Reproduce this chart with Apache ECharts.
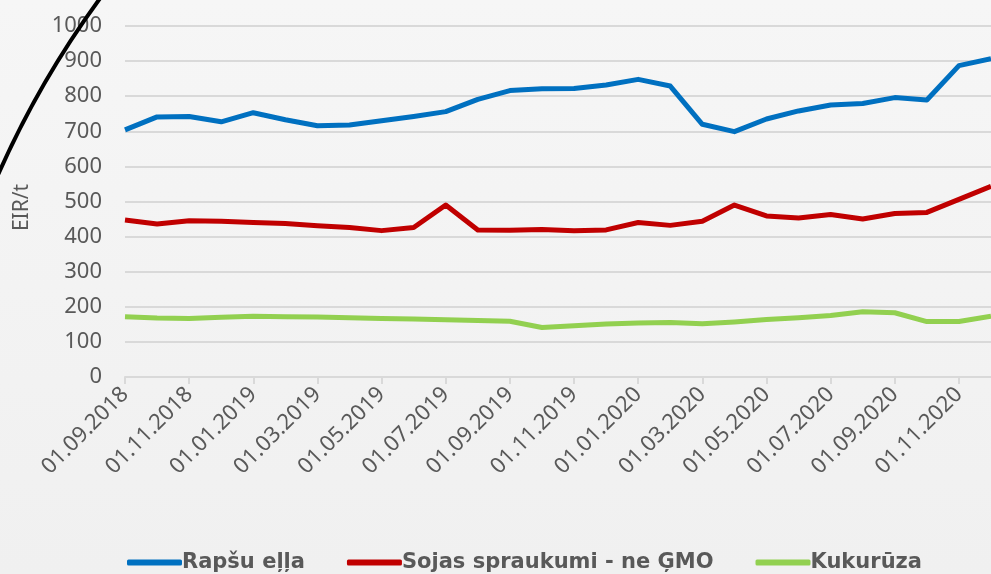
<!DOCTYPE html>
<html>
<head>
<meta charset="utf-8">
<script src="https://cdn.jsdelivr.net/npm/echarts@6/dist/echarts.min.js"></script>
<style>
    html, body { margin: 0; padding: 0; background: #f4f4f4; }
    #chart { width: 991px; height: 574px; }
</style>
</head>
<body>
<div id="chart"></div>
<script>
// datumi (mēneša sākums)
const dates = [
    '01.09.2018', '01.10.2018', '01.11.2018', '01.12.2018',
    '01.01.2019', '01.02.2019', '01.03.2019', '01.04.2019',
    '01.05.2019', '01.06.2019', '01.07.2019', '01.08.2019',
    '01.09.2019', '01.10.2019', '01.11.2019', '01.12.2019',
    '01.01.2020', '01.02.2020', '01.03.2020', '01.04.2020',
    '01.05.2020', '01.06.2020', '01.07.2020', '01.08.2020',
    '01.09.2020', '01.10.2020', '01.11.2020', '01.12.2020'
];

// cenas EIR/t
const rapsuElla = [
    704, 741, 742, 727, 753, 733, 716, 718, 730, 742, 756, 791,
    816, 821, 822, 832, 848, 829, 720, 699, 735, 758, 775, 779,
    796, 789, 887, 907
];
const sojasSpraukumi = [
    447, 436, 445, 444, 440, 437, 431, 426, 417, 426, 490, 419,
    418, 420, 417, 419, 440, 432, 444, 490, 459, 453, 463, 450,
    466, 469, 506, 543
];
const kukuruza = [
    172, 168, 167, 170, 173, 172, 171, 169, 167, 165, 163, 161,
    159, 141, 146, 151, 154, 155, 152, 157, 164, 169, 175, 186,
    183, 158, 158, 173
];

const textColor = '#595959';
const gridColor = '#d9d9d9';
const font = "'Noto Sans', 'DejaVu Sans', sans-serif";

const chart = echarts.init(document.getElementById('chart'));

chart.setOption({
    backgroundColor: new echarts.graphic.LinearGradient(0, 0, 0, 1, [
        { offset: 0, color: '#f6f6f6' },
        { offset: 1, color: '#f0f0f0' }
    ]),
    animation: false,
    textStyle: { fontFamily: font },
    grid: {
        left: 125,
        right: -3,
        top: 26,
        bottom: 197
    },
    legend: {
        left: 122,
        top: 547,
        itemWidth: 55,
        itemHeight: 6,
        itemGap: 42,
        icon: 'roundRect',
        textStyle: {
            color: textColor,
            fontSize: 21,
            fontWeight: 'bold',
            fontFamily: "'DejaVu Sans', sans-serif",
            padding: [0, 0, 0, -5]
        },
        data: ['Rapšu eļļa', 'Sojas spraukumi - ne ĢMO', 'Kukurūza']
    },
    xAxis: {
        type: 'category',
        boundaryGap: false,
        data: dates,
        axisLine: {
            lineStyle: { color: gridColor, width: 2 }
        },
        axisTick: {
            interval: 1,
            length: 7,
            lineStyle: { color: gridColor, width: 2 }
        },
        axisLabel: {
            interval: 1,
            rotate: 45,
            margin: 14,
            color: textColor,
            fontSize: 22,
            fontFamily: font
        }
    },
    yAxis: {
        type: 'value',
        min: 0,
        max: 1000,
        interval: 100,
        name: 'EIR/t',
        nameLocation: 'middle',
        nameGap: 92,
        nameTextStyle: {
            color: textColor,
            fontSize: 21,
            fontFamily: font,
            padding: [0, 12, 0, 0]
        },
        axisLine: { show: false },
        axisTick: { show: false },
        axisLabel: {
            margin: 23,
            color: textColor,
            fontSize: 22,
            fontFamily: font,
            formatter: value => String(value)
        },
        splitLine: {
            lineStyle: { color: gridColor, width: 2 }
        }
    },
    series: [
        {
            name: 'Rapšu eļļa',
            type: 'line',
            data: rapsuElla,
            showSymbol: false,
            symbol: 'none',
            itemStyle: { color: '#0070c0' },
            lineStyle: { width: 5, color: '#0070c0', join: 'round' }
        },
        {
            name: 'Sojas spraukumi - ne ĢMO',
            type: 'line',
            data: sojasSpraukumi,
            showSymbol: false,
            symbol: 'none',
            itemStyle: { color: '#c00000' },
            lineStyle: { width: 5, color: '#c00000', join: 'round' }
        },
        {
            name: 'Kukurūza',
            type: 'line',
            data: kukuruza,
            showSymbol: false,
            symbol: 'none',
            itemStyle: { color: '#92d050' },
            lineStyle: { width: 5, color: '#92d050', join: 'round' }
        }
    ],
    // dekoratīvā līkne augšējā kreisajā stūrī
    graphic: [
        {
            type: 'arc',
            z: 100,
            shape: {
                cx: 860,
                cy: 555,
                r: 942,
                startAngle: -162 * Math.PI / 180,
                endAngle: -142 * Math.PI / 180
            },
            style: {
                stroke: '#000',
                lineWidth: 4,
                fill: null
            }
        }
    ]
});

window.addEventListener('resize', function () {
    chart.resize();
});
</script>
</body>
</html>
